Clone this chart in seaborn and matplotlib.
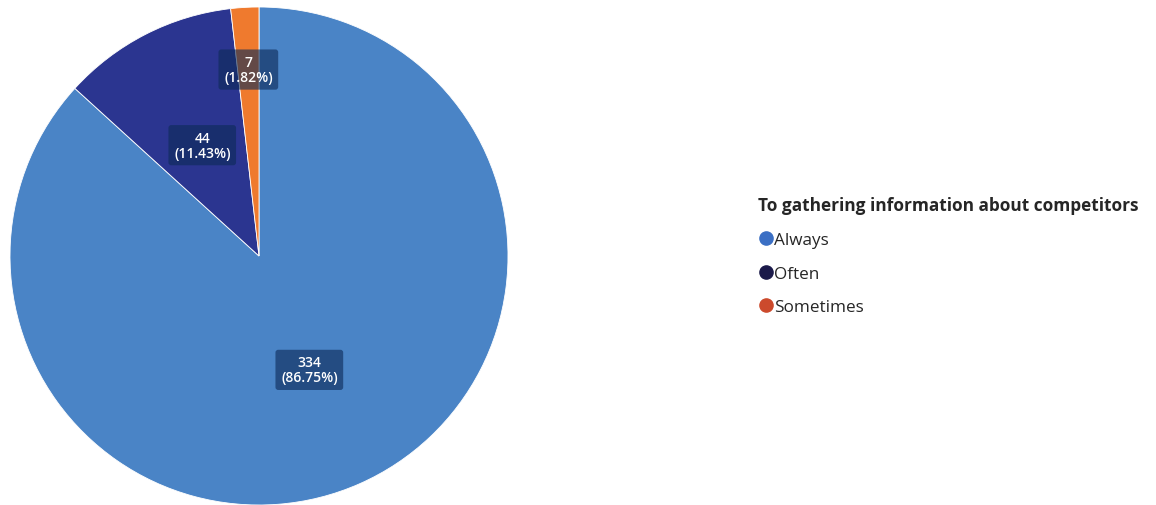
import matplotlib
matplotlib.use("Agg")
import matplotlib.pyplot as plt
from matplotlib.lines import Line2D
import numpy as np
import seaborn as sns

categories = ["Always", "Often", "Sometimes"]
counts = [334, 44, 7]
slice_colors = ["#4a84c6", "#2b3590", "#ef7a2e"]
legend_colors = ["#3b6fc4", "#1b1a4a", "#cc4a2c"]
legend_title = "To gathering information about competitors"

sns.set_theme(style="white")
plt.rcParams["font.family"] = ["Open Sans", "DejaVu Sans"]

W, H = 1156, 506
fig = plt.figure(figsize=(W / 100, H / 100), dpi=100)
ax = fig.add_axes([0, 0, 1, 1])

cx, cy, R = 259, H - 257, 249
total = sum(counts)
wedges, _ = ax.pie(counts, colors=slice_colors, startangle=90, counterclock=False,
                   center=(cx, cy), radius=R, frame=True,
                   wedgeprops=dict(edgecolor="white", linewidth=0.6))
ax.set_xlim(0, W)
ax.set_ylim(0, H)
ax.set_aspect("equal")
ax.axis("off")

dists = [0.5, 0.5, 0.75]
for w, c, d in zip(wedges, counts, dists):
    mid = np.deg2rad((w.theta1 + w.theta2) / 2)
    x = cx + d * R * np.cos(mid)
    y = cy + d * R * np.sin(mid)
    ax.text(x, y, f"{c}\n({c / total * 100:.2f}%)", ha="center", va="center",
            color="white", fontsize=10, fontweight="semibold", linespacing=1.1,
            bbox=dict(boxstyle="round,pad=0.4,rounding_size=0.2",
                      fc="#0d2b58", ec="none", alpha=0.62))

handles = [Line2D([], [], marker="o", linestyle="none", markersize=9.5,
                  markerfacecolor=col, markeredgecolor=col) for col in legend_colors]
leg = fig.legend(handles, categories, title=legend_title, loc="upper left",
                 bbox_to_anchor=(758 / W, 1 - 197 / H), frameon=False,
                 fontsize=12.3, title_fontproperties={"weight": "bold", "size": 12.4},
                 alignment="left", handletextpad=0.05, handlelength=0.9,
                 labelspacing=1.04, borderaxespad=0, borderpad=0)

fig.savefig("out.png", dpi=100)
